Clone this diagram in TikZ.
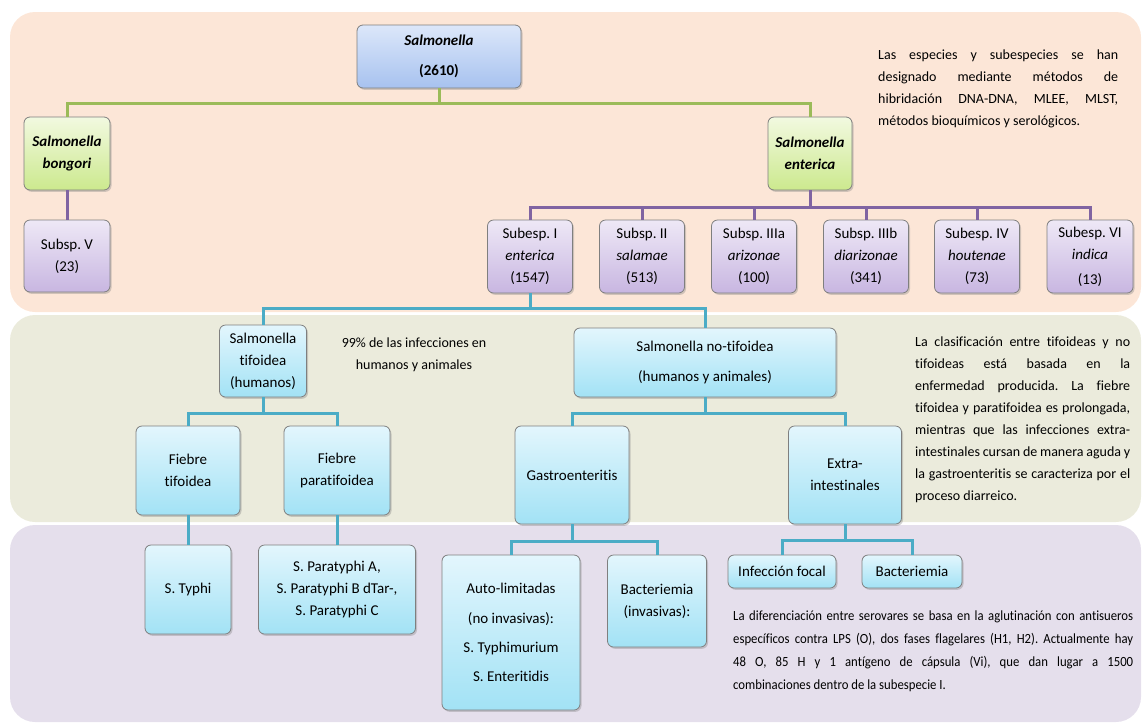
\documentclass[tikz,border=0pt]{standalone}
\usepackage{fontspec}
\setmainfont{Carlito}[Ligatures=NoCommon]
\newfontfamily\narrowfont{Carlito}[FakeStretch=0.91, Ligatures=NoCommon]
\newcommand\nohyph{\hyphenpenalty=10000\relax}
\frenchspacing
\usepackage{tikz}
\usetikzlibrary{positioning, shadows}

\definecolor{peach}{HTML}{FCE6D7}
\definecolor{sage}{HTML}{EBEBDC}
\definecolor{lilac}{HTML}{E5DFEC}
\definecolor{boxgray}{HTML}{7F7F7F}
\definecolor{lineG}{HTML}{9BBB59}
\definecolor{lineP}{HTML}{8064A2}
\definecolor{lineC}{HTML}{4BACC6}
\definecolor{blueT}{HTML}{DCE7FA}
\definecolor{blueB}{HTML}{A7C2EF}
\definecolor{greenT}{HTML}{F2F9E0}
\definecolor{greenB}{HTML}{CCE98E}
\definecolor{purpT}{HTML}{EEE8F6}
\definecolor{purpB}{HTML}{C8B6E1}
\definecolor{cyanT}{HTML}{E3F6FD}
\definecolor{cyanB}{HTML}{A2E2F5}

\tikzset{
  box/.style={draw=boxgray, line width=0.8pt, rounded corners=6pt, align=center, inner sep=2pt,
    font=\fontsize{15}{22}\selectfont,
    drop shadow={opacity=0.35, shadow xshift=1.5pt, shadow yshift=-1.8pt}},
  bluebox/.style={box, top color=blueT, bottom color=blueB},
  greenbox/.style={box, top color=greenT, bottom color=greenB},
  purpbox/.style={box, top color=purpT, bottom color=purpB},
  cyanbox/.style={box, top color=cyanT, bottom color=cyanB},
  gline/.style={draw=lineG, line width=3pt},
  pline/.style={draw=lineP, line width=3pt},
  cline/.style={draw=lineC, line width=3pt},
  note/.style={inner sep=0pt, anchor=north west, align=justify, font=\fontsize{14}{22}\selectfont\nohyph}
}

\begin{document}
\begin{tikzpicture}[x=1pt, y=-1pt]
\useasboundingbox (0,0) rectangle (1143,724);

\fill[peach, rounded corners=25pt] (10,12) rectangle (1141,312);
\fill[sage, rounded corners=25pt] (10,315) rectangle (1141,522);
\fill[lilac, rounded corners=25pt] (10,525) rectangle (1141,722);

\node[bluebox, minimum width=164, minimum height=63] (sal) at (439,56.5) {\textbf{\textit{Salmonella}}\\[8pt]\textbf{(2610)}};
\node[greenbox, minimum width=86, minimum height=73] (bon) at (67,153.5) {\textbf{\textit{Salmonella}}\\\textbf{\textit{bongori}}};
\node[greenbox, minimum width=84, minimum height=73] (ent) at (810,153.5) {\textbf{\textit{Salmonella}}\\\textbf{\textit{enterica}}};

\node[purpbox, minimum width=86, minimum height=72] (sv) at (67,256) {Subsp. V\\(23)};
\node[purpbox, minimum width=85, minimum height=73] (s1) at (530,256.5) {Subesp. I\\\textit{enterica}\\(1547)};
\node[purpbox, minimum width=85, minimum height=73] (s2) at (642,256.5) {Subsp. II\\\textit{salamae}\\(513)};
\node[purpbox, minimum width=85, minimum height=73] (s3) at (754,256.5) {Subsp. IIIa\\\textit{arizonae}\\(100)};
\node[purpbox, minimum width=85, minimum height=73] (s4) at (866,256.5) {Subsp. IIIb\\\textit{diarizonae}\\(341)};
\node[purpbox, minimum width=85, minimum height=73] (s5) at (977,256.5) {Subesp. IV\\\textit{houtenae}\\(73)};
\node[purpbox, minimum width=86, minimum height=73] (s6) at (1090,256.5) {Subesp. VI\\\textit{indica}\\[3pt](13)};

\node[cyanbox, minimum width=87, minimum height=72] (tif) at (263,361) {Salmonella\\tifoidea\\(humanos)};
\node[cyanbox, minimum width=262, minimum height=69] (ntif) at (705,362.5) {Salmonella no-tifoidea\\[8pt](humanos y animales)};

\node[cyanbox, minimum width=104, minimum height=89] (ft) at (188,470.5) {Fiebre\\tifoidea};
\node[cyanbox, minimum width=106, minimum height=89] (fp) at (337,470.5) {Fiebre\\paratifoidea};
\node[cyanbox, minimum width=114, minimum height=98] (gas) at (572,475) {Gastroenteritis};
\node[cyanbox, minimum width=113, minimum height=98] (ext) at (845,475) {Extra-\\intestinales};

\node[cyanbox, minimum width=86, minimum height=89] (typ) at (188,589.5) {S. Typhi};
\node[cyanbox, minimum width=157, minimum height=89] (par) at (337,589.5) {S. Paratyphi A,\\S. Paratyphi B dTar-,\\S. Paratyphi C};
\node[cyanbox, minimum width=138, minimum height=155] (auto) at (511,632.5) {Auto-limitadas\\[8pt](no invasivas):\\[7pt]S. Typhimurium\\[7pt]S. Enteritidis};
\node[cyanbox, minimum width=99, minimum height=92] (bac) at (657,601) {Bacteriemia\\(invasivas):};
\node[cyanbox, minimum width=108, minimum height=33] (foc) at (782,571.5) {Infección focal};
\node[cyanbox, minimum width=100, minimum height=33] (bacb) at (912,571.5) {Bacteriemia};

\node[note, text width=240] (txtA) at (878,50) {Las especies y subespecies se han\linebreak designado mediante métodos de\linebreak hibridación DNA-DNA, MLEE, MLST,\linebreak métodos bioquímicos y serológicos.};
\node[font=\fontsize{14}{22}\selectfont, align=center] (txtC) at (414,355) {99\% de las infecciones en\\humanos y animales};
\node[note, text width=215] (txtB) at (915,337) {La clasificación entre tifoideas y no\linebreak tifoideas está basada en la\linebreak enfermedad producida. La fiebre\linebreak tifoidea y paratifoidea es prolongada,\linebreak mientras que las infecciones extra-\linebreak intestinales cursan de manera aguda y\linebreak la gastroenteritis se caracteriza por el\linebreak proceso diarreico.};
\node[note, text width=400, font=\narrowfont\fontsize{14}{23}\selectfont\nohyph] (txtD) at (733,611) {La diferenciación entre serovares se basa en la aglutinación con antisueros\linebreak específicos contra LPS (O), dos fases flagelares (H1, H2). Actualmente hay\linebreak 48 O, 85 H y 1 antígeno de cápsula (Vi), que dan lugar a 1500\linebreak combinaciones dentro de la subespecie I.};

\draw[gline] (sal.south) -- ++(0,15) -| (bon.north);
\draw[gline] (sal.south) -- ++(0,15) -| (ent.north);
\draw[pline] (bon) -- (sv);
\foreach \n in {s1,s2,s3,s4,s5,s6}
  \draw[pline] (ent.south) -- ++(0,17) -| (\n.north);
\draw[cline] (s1.south) -- ++(0,15) -| (tif.north);
\draw[cline] (s1.south) -- ++(0,15) -| (ntif.north);
\draw[cline] (tif.south) -- ++(0,16) -| (ft.north);
\draw[cline] (tif.south) -- ++(0,16) -| (fp.north);
\draw[cline] (ntif.south) -- ++(0,16) -| (gas.north);
\draw[cline] (ntif.south) -- ++(0,16) -| (ext.north);
\draw[cline] (ft) -- (typ);
\draw[cline] (fp) -- (par);
\draw[cline] (gas.south) -- ++(0,17) -| (auto.north);
\draw[cline] (gas.south) -- ++(0,17) -| (bac.north);
\draw[cline] (ext.south) -- ++(0,16) -| (foc.north);
\draw[cline] (ext.south) -- ++(0,16) -| (bacb.north);
\end{tikzpicture}
\end{document}
